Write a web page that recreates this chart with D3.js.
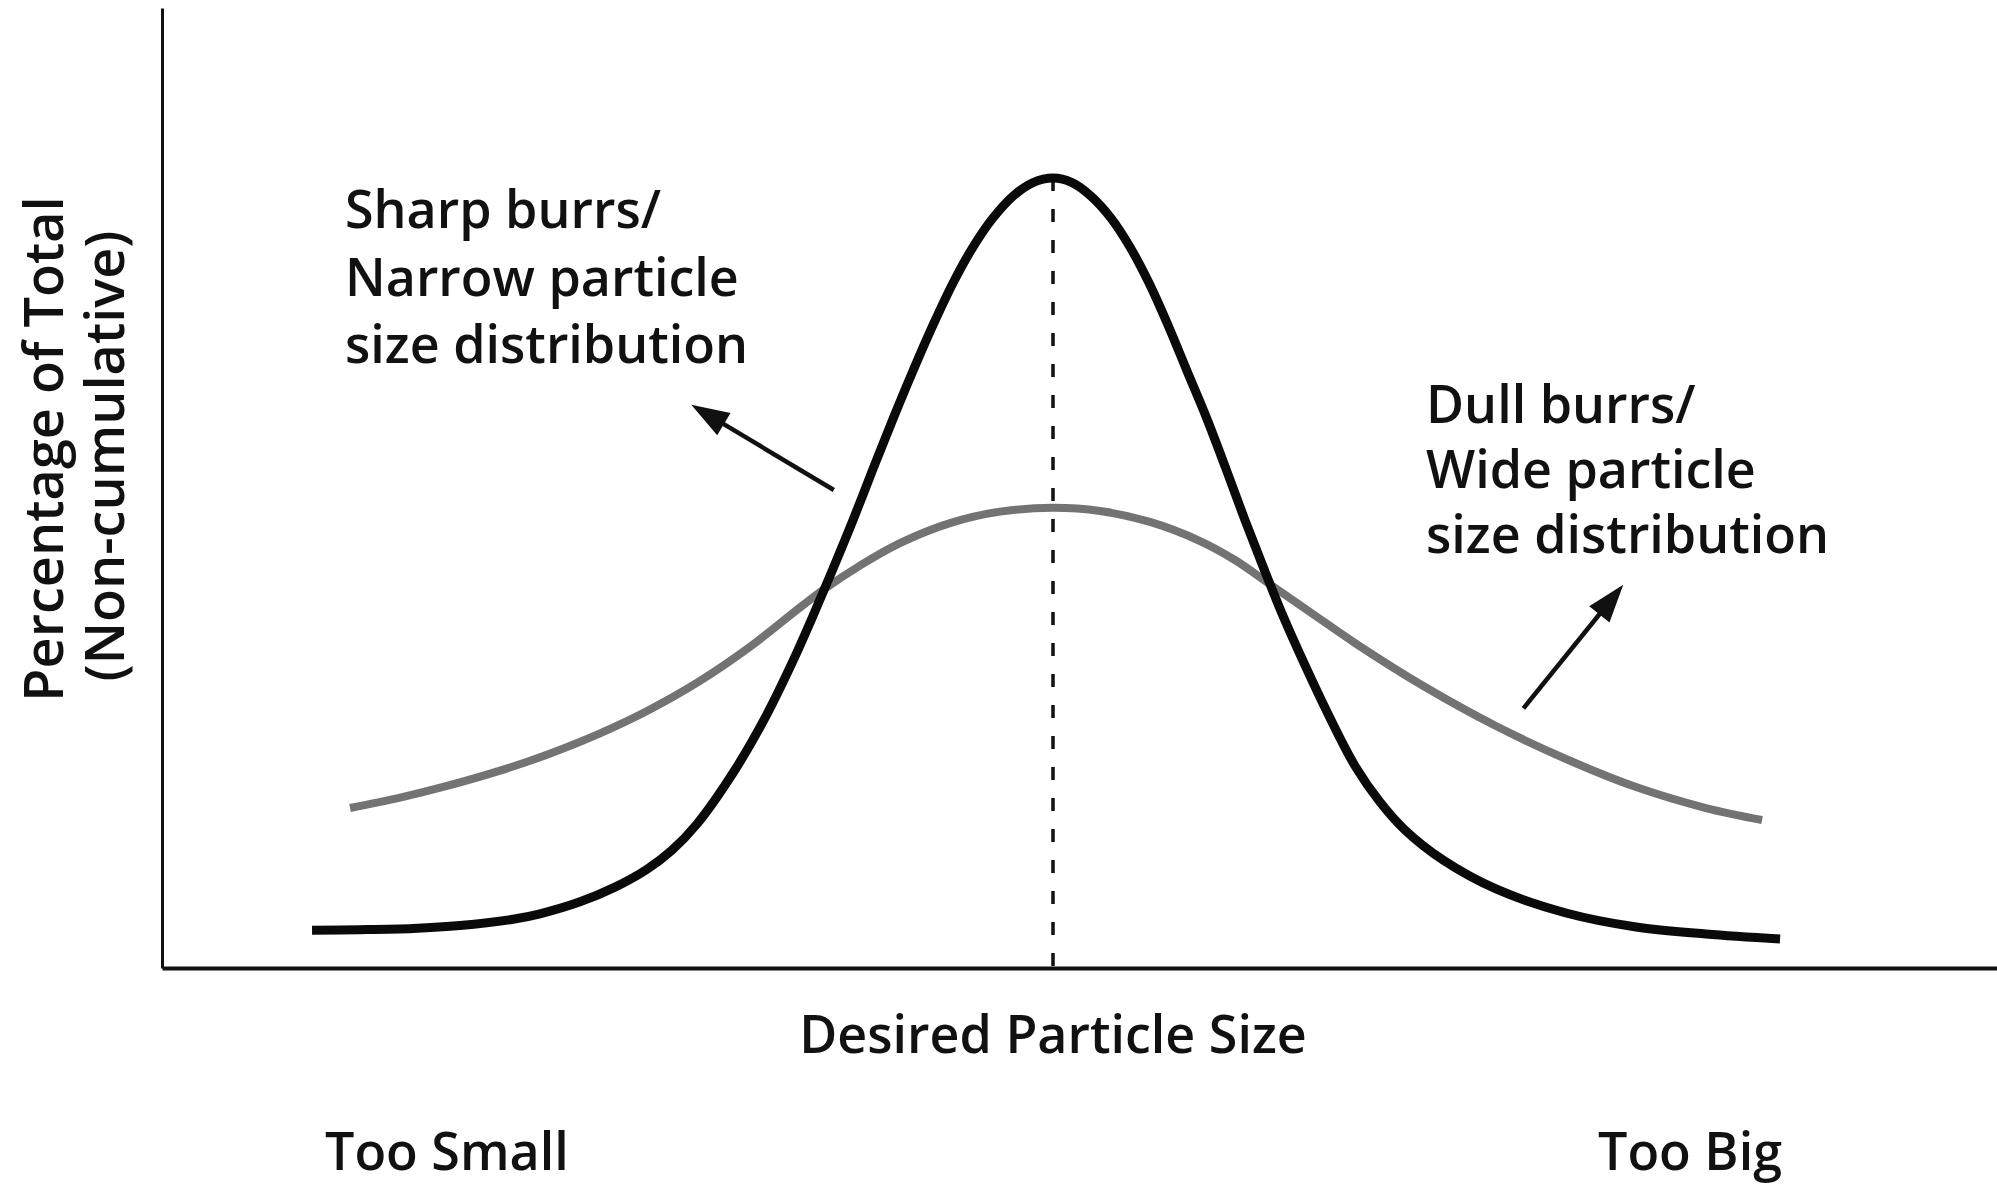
<!DOCTYPE html>
<html>
<head>
<meta charset="utf-8">
<script src="https://cdn.jsdelivr.net/npm/d3@7"></script>
<style>
  html, body { margin: 0; padding: 0; background: #ffffff; }
  svg { display: block; }
  text { font-family: "Open Sans", "Noto Sans", sans-serif; font-weight: 600; fill: #111; }
</style>
</head>
<body>
<svg id="chart" width="1997" height="1186"></svg>
<script>
// ---- data (particle size units 0-100, percentage of total 0-100) ----
const narrowX = [8.42, 11.11, 14.09, 16.72, 19.70, 21.21, 23.46, 25.42, 27.22, 28.62, 30.02, 32.15, 33.84, 35.41,
                 36.53, 37.65, 38.78, 39.90, 41.02, 42.14, 43.27, 44.39, 45.51, 46.63, 47.76, 48.88, 50.00,
                 51.07, 52.13, 53.25, 54.32, 55.39, 56.45, 57.52, 58.64, 59.71, 60.77, 61.84, 62.91, 64.03,
                 65.49, 66.95, 68.35, 69.75, 71.89, 74.86, 78.79, 82.72, 86.64, 90.80];
const narrowY = [3.95, 4.00, 4.13, 4.43, 5.09, 5.66, 6.91, 8.44, 10.31, 12.30, 15.03, 20.67, 26.10, 32.05,
                 36.74, 41.65, 46.76, 52.09, 57.31, 62.32, 67.12, 71.50, 75.26, 78.29, 80.58, 81.99, 82.46,
                 81.99, 80.58, 78.29, 75.26, 71.50, 67.12, 62.32, 57.31, 52.09, 46.76, 41.65, 36.74, 32.05,
                 26.30, 21.09, 17.33, 14.41, 11.27, 8.25, 5.74, 4.28, 3.55, 3.03];
const wideX = [10.55, 13.36, 15.99, 18.97, 21.60, 24.58, 27.22, 30.19, 33.00, 35.80, 37.26, 39.17, 41.41,
               44.22, 47.03, 50.00, 52.64, 55.44, 58.25, 60.21, 62.23, 64.42, 66.95, 70.88, 74.86, 78.79,
               82.72, 86.64, 89.79];
const wideY = [16.70, 17.78, 19.00, 20.60, 22.27, 24.50, 26.83, 29.97, 33.53, 37.63, 39.68, 42.01, 44.35,
               46.44, 47.64, 48.03, 47.70, 46.56, 44.57, 42.59, 39.98, 37.16, 33.92, 29.33, 25.26, 21.82,
               18.89, 16.70, 15.45];
const desiredSize = 50;
const narrowLabel = ["Sharp burrs/", "Narrow particle", "size distribution"];
const wideLabel = ["Dull burrs/", "Wide particle", "size distribution"];
const yLabel = ["Percentage of Total", "(Non-cumulative)"];
const xLabel = "Desired Particle Size";
const endLabels = ["Too Small", "Too Big"];
// arrows: [fromX, fromY, toX, toY] in data units
const narrowArrow = [37.7, 49.9, 29.7, 58.8];
const wideArrow = [76.4, 27.1, 82.0, 40.0];

// ---- layout ----
const W = 1997, H = 1186;
const svg = d3.select("#chart");
svg.append("rect").attr("width", W).attr("height", H).attr("fill", "#ffffff");

const x = d3.scaleLinear().domain([0, 100]).range([162, 1944]);
const y = d3.scaleLinear().domain([0, 100]).range([968, 10]);

// axes (lines only)
const xAxisScale = d3.scaleLinear().domain([0, x.invert(W)]).range([162, W]);
const yAxisScale = d3.scaleLinear().domain([0, y.invert(8)]).range([968, 8]);
const gx = svg.append("g").attr("transform", `translate(0,${y(0)})`)
  .call(d3.axisBottom(xAxisScale).tickValues([]).tickSizeOuter(0));
gx.select(".domain").attr("stroke", "#111").attr("stroke-width", 4);
const gy = svg.append("g").attr("transform", `translate(${x(0)},0)`)
  .call(d3.axisLeft(yAxisScale).tickValues([]).tickSizeOuter(0));
gy.select(".domain").attr("stroke", "#111").attr("stroke-width", 3);

// dashed desired size line
svg.append("line")
  .attr("x1", x(desiredSize)).attr("x2", x(desiredSize))
  .attr("y1", y(d3.max(narrowY))).attr("y2", y(0))
  .attr("stroke", "#111").attr("stroke-width", 3.5)
  .attr("stroke-dasharray", "13,18");

const line = d3.line().x(d => x(d[0])).y(d => y(d[1])).curve(d3.curveCatmullRom.alpha(0.5));

svg.append("path")
  .datum(wideX.map((v, i) => [v, wideY[i]]))
  .attr("d", line)
  .attr("fill", "none").attr("stroke", "#737373").attr("stroke-width", 8);

svg.append("path")
  .datum(narrowX.map((v, i) => [v, narrowY[i]]))
  .attr("d", line)
  .attr("fill", "none").attr("stroke", "#0a0a0a").attr("stroke-width", 9);

// arrows
function arrow(a) {
  const x1 = x(a[0]), y1 = y(a[1]), x2 = x(a[2]), y2 = y(a[3]);
  const ang = Math.atan2(y2 - y1, x2 - x1);
  const L = 38, hw = 13;
  const bx = x2 - L * Math.cos(ang), by = y2 - L * Math.sin(ang);
  svg.append("line").attr("x1", x1).attr("y1", y1).attr("x2", bx + 4 * Math.cos(ang)).attr("y2", by + 4 * Math.sin(ang))
    .attr("stroke", "#111").attr("stroke-width", 4.5);
  const p = [[x2, y2],
             [bx + hw * Math.sin(ang), by - hw * Math.cos(ang)],
             [bx - hw * Math.sin(ang), by + hw * Math.cos(ang)]];
  svg.append("path").attr("d", "M" + p.map(q => q.join(",")).join("L") + "Z").attr("fill", "#111");
}
arrow(narrowArrow);
arrow(wideArrow);

// annotation labels
const fs = 52;
narrowLabel.forEach((t, i) => {
  svg.append("text").attr("x", 345).attr("y", 228 + i * 67.5).attr("font-size", fs).text(t);
});
wideLabel.forEach((t, i) => {
  svg.append("text").attr("x", 1426).attr("y", 423 + i * 65).attr("font-size", fs).text(t);
});

// y label
svg.append("text").attr("transform", "translate(63,449) rotate(-90)")
  .attr("text-anchor", "middle").attr("font-size", 54).text(yLabel[0]);
svg.append("text").attr("transform", "translate(124,456) rotate(-90)")
  .attr("text-anchor", "middle").attr("font-size", 54).text(yLabel[1]);

// x label
svg.append("text").attr("x", x(desiredSize)).attr("y", 1053)
  .attr("text-anchor", "middle").attr("font-size", fs).text(xLabel);
svg.append("text").attr("x", 325).attr("y", 1170).attr("font-size", fs).text(endLabels[0]);
svg.append("text").attr("x", 1598).attr("y", 1170).attr("font-size", fs).text(endLabels[1]);
</script>
</body>
</html>
